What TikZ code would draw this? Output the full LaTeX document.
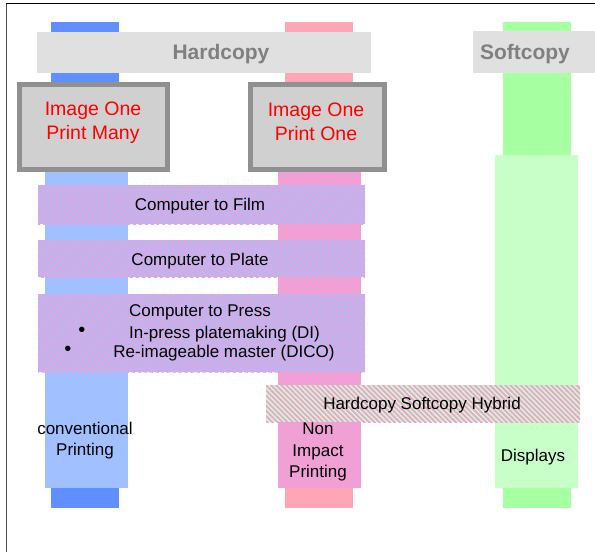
\documentclass[tikz,border=0pt]{standalone}
\usepackage{fontspec}
\setmainfont{Liberation Sans}
\usetikzlibrary{patterns.meta}
\definecolor{blueD}{HTML}{6090FF}
\definecolor{blueL}{HTML}{A0C0FF}
\definecolor{pinkD}{HTML}{FFA6B6}
\definecolor{pinkL}{HTML}{F0A0D4}
\definecolor{greenD}{HTML}{A6FFA0}
\definecolor{greenL}{HTML}{C8FFC8}
\definecolor{barGray}{HTML}{E0E0E0}
\definecolor{headGray}{HTML}{808080}
\definecolor{boxGray}{HTML}{D0D0D0}
\definecolor{rimGray}{HTML}{909090}
\tikzset{
  plain/.style={inner sep=0pt, outer sep=0pt},
  txt/.style={plain, align=center, font=\fontsize{17}{21.5}\selectfont},
  headbar/.style={plain, fill=barGray},
  headtxt/.style={plain, text=headGray, font=\fontsize{21}{24}\selectfont\bfseries},
  imgbox/.style={plain, draw=rimGray, line width=5pt, fill=boxGray,
    minimum height=85pt},
  imgtxt/.style={plain, align=center, text=red, font=\fontsize{19.5}{24}\selectfont},
  ctpbar/.style={plain, minimum width=327pt, fill=blueL,
    postaction={pattern={Lines[angle=45,distance=4pt,line width=2.7pt]},
      pattern color=pinkL}},
  hybar/.style={plain, fill=greenL,
    postaction={pattern={Lines[angle=-45,distance=3.6pt,line width=1.8pt]},
      pattern color=pinkL}}
}
\begin{document}
\begin{tikzpicture}[x=1pt, y=-1pt]
  \useasboundingbox (0,0) rectangle (595,552);
  % frame
  \draw[line width=1.5pt] (6,3.5) to (595,3.5);
  \draw[line width=0.9pt, black!70] (6.5,3.5) to (6.5,552);

  % columns
  \fill[blueD] (51,22) rectangle (119,508);
  \fill[blueL] (45,172) rectangle (128,488);
  \fill[pinkD] (285,22) rectangle (353,508);
  \fill[pinkL] (278,172) rectangle (361,488);
  \fill[greenD] (503,22) rectangle (571,508);
  \fill[greenL] (495,155) rectangle (578,488);

  % headings
  \node[headbar, minimum width=334pt, minimum height=41pt] (hardbar) at (204,52.5) {};
  \node[headtxt] (hardtxt) at (221,54) {Hardcopy};
  \node[headbar, minimum width=122pt, minimum height=42pt] (softbar) at (534,52) {};
  \node[headtxt] (softtxt) at (525,54) {Softcopy};

  % image boxes
  \node[imgbox, minimum width=148pt] (manybox) at (93.5,127) {};
  \node[imgtxt] (manytxt) at (93,123) {Image One\\Print Many};
  \node[imgbox, minimum width=134pt] (onebox) at (317.5,127) {};
  \node[imgtxt] (onetxt) at (316,122) {Image One\\Print One};

  % computer to ...
  \node[ctpbar, minimum height=39pt] (film) at (201.5,204.5) {};
  \node[txt] (filmtxt) at (200,206) {Computer to Film};
  \node[ctpbar, minimum height=37pt] (plate) at (201.5,258.5) {};
  \node[txt] (platetxt) at (200,261) {Computer to Plate};
  \node[ctpbar, minimum height=78pt] (press) at (201.5,333) {};
  \node[txt] (presstxt) at (200,312) {Computer to Press};
  \node[txt] (di) at (224.5,334) {In-press platemaking (DI)};
  \node[txt, font=\fontsize{20}{21.5}\selectfont] (dibul) at (82,332) {•};
  \node[txt] (dico) at (224,353) {Re-imageable master (DICO)};
  \node[txt, font=\fontsize{20}{21.5}\selectfont] (dicobul) at (68,351) {•};

  % hybrid
  \node[hybar, minimum width=314pt, minimum height=37pt] (hybrid) at (423,403.5) {};
  \node[txt] (hybtxt) at (422,405) {Hardcopy Softcopy Hybrid};

  % column labels
  \node[txt] (conv) at (85,440.5) {conventional\\Printing};
  \node[txt] (nonimp) at (318,452) {Non\\Impact\\Printing};
  \node[txt] (disp) at (533,457) {Displays};
\end{tikzpicture}
\end{document}
